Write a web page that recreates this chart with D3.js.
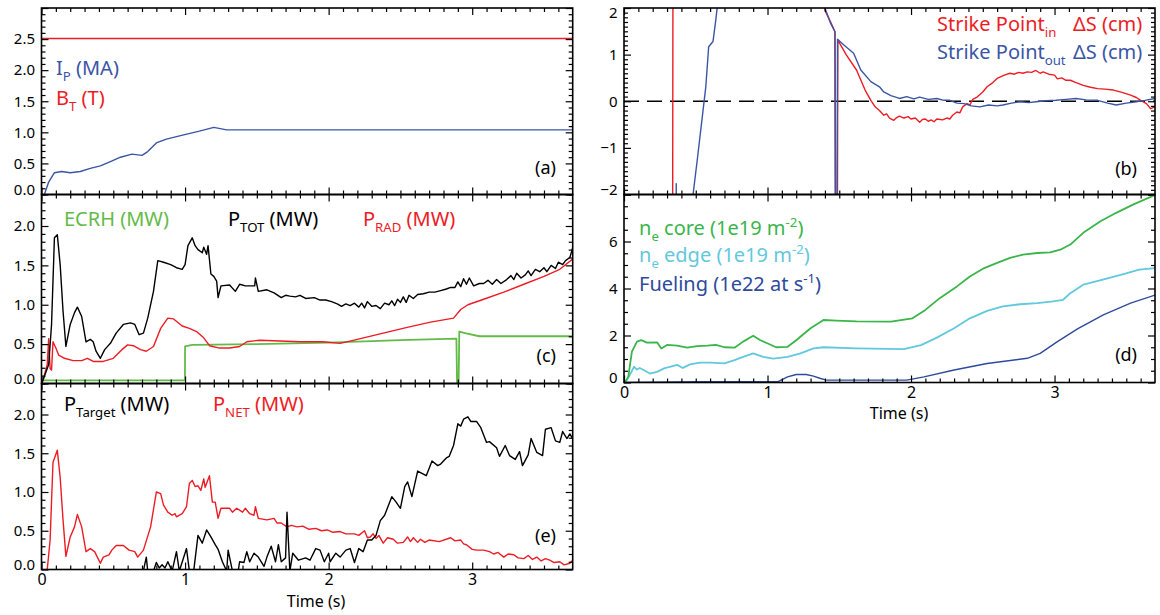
<!DOCTYPE html>
<html>
<head>
<meta charset="utf-8">
<script src="https://cdn.jsdelivr.net/npm/d3@7"></script>
<style>
  body { margin: 0; background: #fff; }
  svg { display: block; }
  text { font-family: 'Noto Sans', 'DejaVu Sans', sans-serif; white-space: pre; }
</style>
</head>
<body>
<svg id="chart" width="1160" height="615"></svg>
<script>
// ---- data: [time (s), value] ----
const plasmaCurrent = [[0,-0.1],[0.02,0],[0.05,0.2],[0.09,0.35],[0.14,0.37],[0.2,0.35],[0.27,0.37],[0.34,0.42],[0.41,0.46],[0.48,0.53],
  [0.55,0.6],[0.63,0.65],[0.7,0.63],[0.74,0.69],[0.8,0.83],[0.87,0.89],[0.99,0.96],[1.1,1.02],[1.2,1.08],[1.29,1.04],[2,1.04],[3.7,1.04]];
const toroidalField = [[0,2.51],[1,2.51],[2,2.51],[3.7,2.51]];

const pTot = [[0,0],[0.01,0.04],[0.05,0.24],[0.07,0.75],[0.09,1.85],[0.11,1.89],[0.13,1.51],[0.15,0.92],[0.17,0.47],[0.2,0.75],[0.23,0.9],
  [0.25,0.97],[0.28,0.85],[0.31,0.53],[0.34,0.56],[0.36,0.53],[0.38,0.41],[0.41,0.32],[0.44,0.43],[0.48,0.51],[0.52,0.64],[0.57,0.75],
  [0.62,0.77],[0.65,0.75],[0.68,0.62],[0.71,0.64],[0.74,0.83],[0.78,1.17],[0.81,1.56],[0.85,1.54],[0.9,1.51],[0.94,1.47],[0.98,1.45],
  [1.0,1.51],[1.02,1.75],[1.05,1.85],[1.07,1.75],[1.09,1.7],[1.12,1.66],[1.13,1.73],[1.15,1.64],[1.16,1.75],[1.18,1.39],[1.2,1.36],
  [1.22,1.3],[1.23,1.09],[1.25,1.24],[1.31,1.25],[1.35,1.17],[1.38,1.26],[1.42,1.24],[1.485,1.24],[1.49,1.34],[1.51,1.17],[1.57,1.19],
  [1.62,1.15],[1.67,1.09],[1.7,1.12],[1.73,1.11],[1.77,1.1],[1.8,1.12],[1.84,1.08],[1.9,1.09],[1.94,1.06],[1.98,1.06],[2.02,1.04],
  [2.06,1.01],[2.09,0.98],[2.12,1.01],[2.15,0.99],[2.18,1.02],[2.21,0.97],[2.23,1.02],[2.25,0.96],[2.27,1.04],[2.3,0.98],[2.33,0.99],
  [2.36,0.95],[2.39,1.02],[2.42,1.0],[2.44,1.05],[2.46,0.99],[2.48,1.07],[2.5,1.03],[2.52,1.1],[2.54,1.03],[2.56,1.12],[2.59,1.08],
  [2.62,1.13],[2.66,1.14],[2.7,1.16],[2.74,1.16],[2.78,1.18],[2.82,1.2],[2.85,1.22],[2.88,1.22],[2.9,1.29],[2.92,1.23],[2.94,1.33],
  [2.96,1.26],[2.98,1.34],[3.01,1.24],[3.05,1.27],[3.08,1.27],[3.11,1.31],[3.14,1.26],[3.17,1.32],[3.2,1.27],[3.24,1.32],[3.27,1.37],
  [3.29,1.32],[3.31,1.4],[3.34,1.34],[3.37,1.38],[3.39,1.43],[3.41,1.37],[3.44,1.45],[3.47,1.42],[3.5,1.47],[3.52,1.42],[3.55,1.5],
  [3.58,1.46],[3.6,1.54],[3.63,1.51],[3.65,1.56],[3.68,1.6],[3.7,1.72]];
const pRad = [[0,0],[0.01,0.04],[0.04,0.24],[0.05,0.57],[0.06,0.19],[0.07,0.17],[0.08,0.53],[0.1,0.45],[0.12,0.36],[0.16,0.32],[0.22,0.29],
  [0.28,0.29],[0.32,0.32],[0.36,0.28],[0.43,0.28],[0.5,0.32],[0.56,0.43],[0.6,0.49],[0.64,0.48],[0.69,0.43],[0.73,0.41],[0.78,0.47],
  [0.83,0.7],[0.88,0.83],[0.92,0.82],[0.98,0.73],[1.03,0.7],[1.08,0.66],[1.13,0.58],[1.17,0.48],[1.24,0.45],[1.31,0.45],[1.38,0.47],
  [1.43,0.53],[1.52,0.55],[1.66,0.54],[1.8,0.53],[1.96,0.53],[2.08,0.51],[2.2,0.56],[2.38,0.64],[2.54,0.71],[2.71,0.78],[2.87,0.83],
  [2.92,0.94],[2.97,1.0],[3.08,1.07],[3.22,1.16],[3.36,1.26],[3.5,1.36],[3.61,1.45],[3.7,1.58]];
const ecrh = [[0,0.04],[0.999,0.04],[1.0,0.47],[1.05,0.49],[1.5,0.5],[2.0,0.52],[2.5,0.55],[2.89,0.57],[2.895,-0.05],[2.905,-0.05],
  [2.91,0.66],[2.95,0.64],[3.05,0.6],[3.4,0.6],[3.7,0.6]];

const pNet = [[0,-0.05],[0.04,0],[0.06,0.38],[0.08,1.38],[0.11,1.54],[0.13,1.19],[0.15,0.64],[0.17,0.17],[0.2,0.42],[0.23,0.55],[0.25,0.71],
  [0.28,0.55],[0.31,0.23],[0.34,0.27],[0.37,0.23],[0.41,0.08],[0.43,0.16],[0.47,0.19],[0.49,0.25],[0.52,0.31],[0.57,0.31],[0.61,0.25],
  [0.65,0.23],[0.67,0.16],[0.71,0.25],[0.76,0.55],[0.8,1.0],[0.83,0.98],[0.85,0.83],[0.88,0.74],[0.91,0.7],[0.93,0.72],[0.94,0.68],
  [0.98,0.72],[1.01,0.81],[1.03,1.11],[1.05,1.15],[1.07,1.07],[1.09,1.08],[1.11,1.02],[1.13,1.17],[1.14,1.06],[1.17,1.21],[1.19,0.87],
  [1.21,0.87],[1.23,0.66],[1.25,0.79],[1.31,0.79],[1.33,0.74],[1.36,0.79],[1.4,0.74],[1.42,0.79],[1.45,0.72],[1.48,0.7],[1.49,0.81],
  [1.51,0.66],[1.57,0.64],[1.62,0.66],[1.64,0.6],[1.67,0.6],[1.71,0.55],[1.74,0.57],[1.78,0.55],[1.82,0.56],[1.86,0.52],[1.91,0.53],
  [1.95,0.5],[1.99,0.51],[2.03,0.48],[2.08,0.49],[2.12,0.46],[2.18,0.46],[2.21,0.44],[2.25,0.5],[2.27,0.41],[2.29,0.42],[2.31,0.46],
  [2.33,0.4],[2.35,0.44],[2.38,0.34],[2.41,0.41],[2.45,0.39],[2.48,0.34],[2.52,0.35],[2.55,0.42],[2.57,0.36],[2.59,0.41],[2.62,0.35],
  [2.64,0.39],[2.67,0.35],[2.7,0.38],[2.77,0.36],[2.85,0.41],[2.88,0.37],[2.92,0.38],[2.94,0.33],[2.96,0.32],[3.0,0.26],[3.03,0.25],
  [3.08,0.25],[3.12,0.23],[3.15,0.2],[3.18,0.22],[3.22,0.16],[3.25,0.2],[3.29,0.19],[3.32,0.15],[3.36,0.14],[3.39,0.18],[3.42,0.13],
  [3.45,0.16],[3.48,0.11],[3.51,0.14],[3.54,0.12],[3.57,0.09],[3.61,0.1],[3.64,0.06],[3.68,0.08],[3.7,0.12]];
const pTarget = [[0.7,-0.1],[0.73,0.16],[0.74,-0.02],[0.78,-0.02],[0.8,0.09],[0.82,0.02],[0.84,0.06],[0.86,0.02],[0.88,0.1],[0.91,-0.02],
  [0.94,0.23],[0.96,-0.02],[1.01,0.27],[1.03,-0.02],[1.06,-0.02],[1.09,0.44],[1.12,0.34],[1.15,0.51],[1.18,0.42],[1.21,0.32],[1.23,0.26],
  [1.26,0.1],[1.29,-0.02],[1.3,0.25],[1.33,-0.02],[1.37,-0.02],[1.38,0.1],[1.41,0.09],[1.43,0.23],[1.45,0.1],[1.48,0.21],[1.51,0.16],
  [1.55,0.04],[1.57,0.16],[1.6,0.3],[1.63,0.1],[1.65,0.32],[1.67,0.1],[1.7,0.15],[1.71,0.74],[1.73,-0.02],[1.75,0.21],[1.79,0.12],
  [1.84,0.15],[1.87,0.12],[1.91,0.27],[1.94,0.25],[1.97,0.1],[2.0,0.21],[2.01,0.1],[2.05,0.21],[2.08,0.16],[2.12,0.25],[2.15,0.27],
  [2.18,0.09],[2.21,0.27],[2.24,0.23],[2.27,0.38],[2.3,0.38],[2.33,0.44],[2.36,0.63],[2.39,0.7],[2.44,0.94],[2.47,0.87],[2.5,0.79],
  [2.53,1.07],[2.55,1.13],[2.58,0.94],[2.62,1.27],[2.68,1.21],[2.72,1.4],[2.76,1.34],[2.78,1.36],[2.82,1.44],[2.84,1.46],[2.87,1.6],
  [2.9,1.88],[2.92,1.85],[2.94,1.94],[2.97,1.97],[2.99,1.91],[3.03,1.91],[3.06,1.83],[3.1,1.64],[3.12,1.65],[3.17,1.57],[3.19,1.46],
  [3.23,1.6],[3.26,1.47],[3.3,1.42],[3.33,1.52],[3.35,1.34],[3.39,1.48],[3.41,1.69],[3.45,1.51],[3.49,1.47],[3.51,1.81],[3.55,1.83],
  [3.58,1.66],[3.61,1.64],[3.63,1.78],[3.66,1.69],[3.68,1.75],[3.7,1.69]];

const strikeIn = [[0.338,-5],[0.342,5],[1.38,5],[1.4,1.95],[1.44,1.7],[1.47,1.49],[1.478,-5],[1.485,-5],[1.49,1.31],[1.55,0.99],[1.62,0.67],
  [1.68,0.24],[1.72,0.02],[1.75,-0.12],[1.78,-0.2],[1.81,-0.3],[1.83,-0.27],[1.85,-0.36],[1.88,-0.41],[1.9,-0.35],[1.92,-0.32],[1.95,-0.36],
  [1.98,-0.33],[2.0,-0.38],[2.03,-0.36],[2.06,-0.45],[2.08,-0.39],[2.1,-0.38],[2.12,-0.43],[2.14,-0.4],[2.16,-0.44],[2.18,-0.38],
  [2.22,-0.4],[2.25,-0.36],[2.27,-0.38],[2.29,-0.3],[2.32,-0.23],[2.34,-0.25],[2.36,-0.12],[2.39,-0.05],[2.41,-0.08],[2.43,0.04],
  [2.46,0.09],[2.5,0.2],[2.53,0.31],[2.57,0.4],[2.6,0.49],[2.65,0.56],[2.69,0.6],[2.72,0.58],[2.75,0.62],[2.78,0.6],[2.81,0.63],
  [2.84,0.62],[2.87,0.66],[2.9,0.6],[2.92,0.63],[2.96,0.58],[3.0,0.56],[3.02,0.48],[3.05,0.5],[3.08,0.45],[3.11,0.45],[3.15,0.4],
  [3.2,0.34],[3.25,0.3],[3.3,0.27],[3.35,0.26],[3.41,0.24],[3.47,0.19],[3.53,0.13],[3.57,0.08],[3.6,0.02],[3.64,-0.05],[3.67,-0.16],
  [3.7,-0.12]];
const strikeOut = [[0.362,-5],[0.364,-1.77],[0.366,-5],[0.47,-5],[0.48,-2.03],[0.51,-1.27],[0.54,-0.48],[0.57,0.31],[0.59,1.17],[0.62,1.28],
  [0.64,1.75],[0.65,2.03],[0.66,5],[1.39,5],[1.4,2.0],[1.44,1.67],[1.47,1.49],[1.473,-5],[1.482,-5],[1.488,1.33],[1.53,1.21],[1.6,1.03],
  [1.65,0.67],[1.72,0.42],[1.78,0.31],[1.81,0.2],[1.86,0.12],[1.92,0.06],[1.97,0.1],[2.02,0.05],[2.06,0.09],[2.12,0.04],[2.18,0.06],
  [2.23,0.02],[2.27,0.02],[2.32,-0.04],[2.37,-0.05],[2.42,-0.1],[2.48,-0.12],[2.54,-0.08],[2.6,-0.1],[2.64,-0.08],[2.7,-0.04],
  [2.76,-0.01],[2.82,-0.03],[2.87,-0.01],[2.94,0.01],[3.01,0.02],[3.08,0.04],[3.15,0.06],[3.22,0.03],[3.3,0.02],[3.37,-0.04],
  [3.43,-0.08],[3.5,-0.04],[3.57,-0.01],[3.63,0.02],[3.7,0.06]];

const neCore = [[0,0],[0.01,0.03],[0.03,0.24],[0.055,1.31],[0.09,1.74],[0.12,1.8],[0.16,1.7],[0.23,1.71],[0.26,1.45],[0.3,1.6],[0.37,1.57],
  [0.44,1.48],[0.51,1.55],[0.58,1.57],[0.64,1.6],[0.7,1.5],[0.77,1.48],[0.83,1.74],[0.9,1.99],[0.95,1.8],[1.01,1.64],[1.06,1.5],
  [1.14,1.52],[1.2,1.8],[1.3,2.31],[1.39,2.66],[1.48,2.63],[1.62,2.6],[1.86,2.59],[2.01,2.73],[2.1,3.09],[2.2,3.59],[2.32,4.09],
  [2.41,4.51],[2.51,4.87],[2.6,5.09],[2.69,5.3],[2.78,5.44],[2.88,5.51],[2.97,5.54],[3.04,5.65],[3.11,5.87],[3.2,6.37],[3.32,6.86],
  [3.43,7.22],[3.55,7.58],[3.7,7.98]];
const neEdge = [[0,0],[0.01,0.03],[0.04,0.31],[0.07,0.67],[0.09,0.55],[0.11,0.62],[0.14,0.52],[0.18,0.38],[0.23,0.45],[0.28,0.6],[0.32,0.67],
  [0.37,0.75],[0.41,0.62],[0.46,0.77],[0.53,0.85],[0.6,0.85],[0.7,0.81],[0.77,0.95],[0.83,1.09],[0.9,1.24],[0.97,1.09],[1.04,1.02],
  [1.14,1.09],[1.23,1.24],[1.32,1.45],[1.39,1.5],[1.62,1.45],[1.95,1.42],[2.07,1.59],[2.18,1.91],[2.3,2.31],[2.41,2.73],[2.53,3.05],
  [2.64,3.24],[2.76,3.33],[2.88,3.38],[2.99,3.45],[3.06,3.52],[3.11,3.8],[3.2,4.16],[3.33,4.37],[3.48,4.61],[3.59,4.8],[3.7,4.87]];
const fueling = [[0,0],[0.5,0.03],[1.07,0.03],[1.14,0.24],[1.2,0.34],[1.27,0.34],[1.32,0.27],[1.37,0.17],[1.41,0.1],[1.97,0.1],[2.09,0.24],
  [2.3,0.53],[2.53,0.81],[2.81,1.03],[2.9,1.24],[3.02,1.74],[3.16,2.28],[3.34,2.88],[3.53,3.38],[3.7,3.72]];

const timeLabels = ['0', '1', '2', '3'];
const timeDomain = [0, 3.7];

// ---- colours ----
const RED = '#ed1c24', BLUE = '#3b55a5', ECRH_GREEN = '#63bb47', CORE_GREEN = '#3ab54a', EDGE_CYAN = '#62c8dc', FUEL_BLUE = '#2e4a9c';

const svg = d3.select('#chart');
const LEFT = [41.5, 572.7], RIGHT = [624, 1155];

function richText(g, x, y, parts, size, color, anchor) {
    const t = g.append('text')
        .attr('x', x).attr('y', y)
        .attr('font-size', size)
        .attr('fill', color)
        .attr('text-anchor', anchor || 'start');
    let off = 0;
    parts.forEach(([s, k]) => {
        const target = k === 'sub' ? size * 0.3 : k === 'sup' ? -size * 0.4 : 0;
        t.append('tspan')
            .attr('dy', target - off)
            .attr('font-size', k ? size * 0.66 : size)
            .text(s);
        off = target;
    });
    return t;
}

function panel(cfg) {
    const x = d3.scaleLinear().domain(timeDomain).range(cfg.xr);
    const y = d3.scaleLinear().domain(cfg.yd).range([cfg.yr[1], cfg.yr[0]]);
    const g = svg.append('g');
    const id = 'clip-' + cfg.name;

    g.append('clipPath').attr('id', id)
        .append('rect')
        .attr('x', cfg.xr[0]).attr('y', cfg.yr[0])
        .attr('width', cfg.xr[1] - cfg.xr[0]).attr('height', cfg.yr[1] - cfg.yr[0]);

    const plot = g.append('g').attr('clip-path', `url(#${id})`);

    if (cfg.zeroLine) {
        plot.append('line')
            .attr('x1', cfg.xr[0]).attr('x2', cfg.xr[1])
            .attr('y1', y(0)).attr('y2', y(0))
            .attr('stroke', '#000').attr('stroke-width', 1.3)
            .attr('stroke-dasharray', '15,8');
    }

    const line = d3.line().x(d => x(d[0])).y(d => y(d[1]));
    cfg.series.forEach(s => {
        plot.append('path')
            .datum(s.data)
            .attr('d', line)
            .attr('fill', 'none')
            .attr('stroke', s.color)
            .attr('stroke-width', s.width || 1.4)
            .attr('stroke-linejoin', 'round');
    });

    // ticks (inward, on all four sides)
    const xMajor = d3.range(0, 4, 1);
    const xMinor = d3.range(1, 37).map(i => i / 10).filter(v => Math.abs(v - Math.round(v)) > 1e-6);
    const yMajor = d3.range(Math.round(cfg.yd[0] / cfg.major), Math.floor(cfg.yd[1] / cfg.major + 1e-6) + 1).map(i => i * cfg.major);
    const nMin = Math.round((cfg.yd[1] - cfg.yd[0]) / cfg.minor);
    const yMinor = d3.range(0, nMin + 1).map(i => cfg.yd[0] + i * cfg.minor)
        .filter(v => Math.abs(v / cfg.major - Math.round(v / cfg.major)) > 1e-6 && v <= cfg.yd[1] + 1e-9);

    const axes = [
        [d3.axisBottom(x), 'translate(0,' + cfg.yr[1] + ')', xMajor, xMinor, cfg.xLabels],
        [d3.axisTop(x), 'translate(0,' + cfg.yr[0] + ')', xMajor, xMinor, false],
        [d3.axisLeft(y), 'translate(' + cfg.xr[0] + ',0)', yMajor, yMinor, true],
        [d3.axisRight(y), 'translate(' + cfg.xr[1] + ',0)', yMajor, yMinor, false]
    ];
    axes.forEach(([ax, tr, major, minor, labels], i) => {
        const gm = g.append('g').attr('transform', tr)
            .call(ax.tickValues(minor).tickSizeInner(-4).tickSizeOuter(0).tickFormat(''));
        gm.select('.domain').remove();
        const fmt = i < 2 ? (d, k) => timeLabels[k] : (d => d <= cfg.labelMax + 1e-9 ? cfg.fmt(d) : '');
        const gM = g.append('g').attr('transform', tr)
            .call((i < 2 ? d3[i === 0 ? 'axisBottom' : 'axisTop'](x) : d3[i === 2 ? 'axisLeft' : 'axisRight'](y))
                .tickValues(major).tickSizeInner(-7).tickSizeOuter(0)
                .tickPadding(i === 2 ? 6.5 : 4)
                .tickFormat(labels ? fmt : ''));
        gM.select('.domain').remove();
        g.selectAll('.tick line').attr('stroke', '#000').attr('stroke-width', 1.2);
        gM.selectAll('text')
            .attr('fill', '#000')
            .attr('font-family', "'Noto Sans', sans-serif")
            .attr('font-size', i < 2 ? 16 : 15);
        if (i === 2) {
            // keep end labels inside the frame, as in the original
            gM.selectAll('.tick').each(function (d) {
                const py = y(d);
                const shift = py > cfg.yr[1] - 5 ? (cfg.yr[1] - 5) - py : py < cfg.yr[0] + 5 ? (cfg.yr[0] + 5) - py : 0;
                d3.select(this).select('text').attr('y', shift);
            });
        }
        if (i === 0 && labels) gM.selectAll('text').attr('dy', '0.74em');
    });

    g.append('rect')
        .attr('x', cfg.xr[0]).attr('y', cfg.yr[0])
        .attr('width', cfg.xr[1] - cfg.xr[0]).attr('height', cfg.yr[1] - cfg.yr[0])
        .attr('fill', 'none').attr('stroke', '#000').attr('stroke-width', 1.6);

    g.append('text')
        .attr('x', cfg.tag[0]).attr('y', cfg.tag[1])
        .attr('text-anchor', 'end')
        .attr('font-size', 18)
        .text(cfg.tag[2]);

    return g;
}

const f1 = d3.format('.1f');
const f0 = d3.format('d');

// (a)
const ga = panel({ name: 'a', xr: LEFT, yr: [8, 194.5], yd: [0, 3.0], major: 0.5, minor: 0.1, fmt: f1, labelMax: 2.5,
    series: [{ data: toroidalField, color: RED }, { data: plasmaCurrent, color: BLUE }],
    tag: [556, 174, '(a)'] });
richText(ga, 56, 75, [['I'], ['P', 'sub'], [' (MA)']], 20, BLUE);
richText(ga, 56, 105, [['B'], ['T', 'sub'], [' (T)']], 20, RED);

// (c)
const gc = panel({ name: 'c', xr: LEFT, yr: [194.5, 383.5], yd: [0, 2.4], major: 0.5, minor: 0.1, fmt: f1, labelMax: 2.0,
    series: [{ data: ecrh, color: ECRH_GREEN, width: 1.8 }, { data: pRad, color: RED }, { data: pTot, color: '#000' }],
    tag: [556, 362, '(c)'] });
richText(gc, 64, 226, [['ECRH (MW)']], 20, ECRH_GREEN);
richText(gc, 228, 226, [['P'], ['TOT', 'sub'], [' (MW)']], 20, '#000');
richText(gc, 363, 226, [['P'], ['RAD', 'sub'], [' (MW)']], 20, RED);

// (e)
const ge = panel({ name: 'e', xr: LEFT, yr: [383.5, 569.5], yd: [0, 2.4], major: 0.5, minor: 0.1, fmt: f1, labelMax: 2.0,
    series: [{ data: pNet, color: RED }, { data: pTarget, color: '#000' }],
    xLabels: true, tag: [556, 542, '(e)'] });
richText(ge, 64, 411, [['P'], ['Target', 'sub'], [' (MW)']], 20, '#000');
richText(ge, 213, 411, [['P'], ['NET', 'sub'], [' (MW)']], 20, RED);
ge.append('text').attr('x', 316).attr('y', 607).attr('text-anchor', 'middle').attr('font-size', 16).text('Time (s)');

// (b)
const gb = panel({ name: 'b', xr: RIGHT, yr: [8, 194.5], yd: [-2, 2], major: 1, minor: 0.1, fmt: f0, labelMax: 2,
    zeroLine: true,
    series: [{ data: strikeIn, color: RED }, { data: strikeOut, color: BLUE }],
    tag: [1137, 175, '(b)'] });
richText(gb, 937, 31, [['Strike Point'], ['in', 'sub']], 20, RED);
richText(gb, 1073, 31, [['\u0394S (cm)']], 20, RED);
richText(gb, 937, 59, [['Strike Point'], ['out', 'sub']], 20, BLUE);
richText(gb, 1073, 59, [['\u0394S (cm)']], 20, BLUE);

// (d)
const gd = panel({ name: 'd', xr: RIGHT, yr: [194.5, 382.5], yd: [0, 8], major: 2, minor: 0.5, fmt: f0, labelMax: 6,
    series: [{ data: fueling, color: FUEL_BLUE }, { data: neEdge, color: EDGE_CYAN, width: 1.8 }, { data: neCore, color: CORE_GREEN, width: 1.8 }],
    xLabels: true, tag: [1137, 361, '(d)'] });
richText(gd, 639, 235, [['n'], ['e', 'sub'], [' core (1e19 m'], ['-2', 'sup'], [')']], 20, CORE_GREEN);
richText(gd, 639, 262, [['n'], ['e', 'sub'], [' edge (1e19 m'], ['-2', 'sup'], [')']], 20, EDGE_CYAN);
richText(gd, 639, 291, [['Fueling (1e22 at s'], ['-1', 'sup'], [')']], 20, FUEL_BLUE);
gd.append('text').attr('x', 899).attr('y', 419).attr('text-anchor', 'middle').attr('font-size', 16).text('Time (s)');
</script>
</body>
</html>
